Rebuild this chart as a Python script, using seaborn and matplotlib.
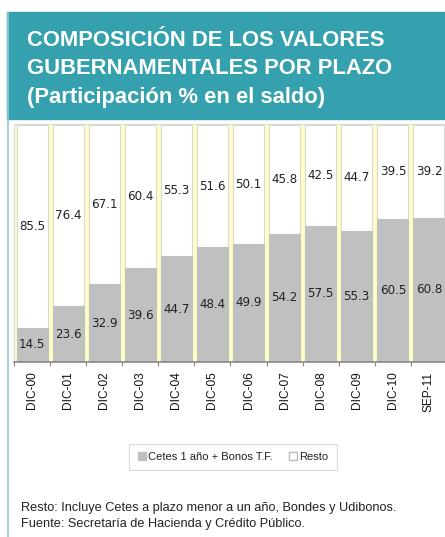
import numpy as np
import pandas as pd
import matplotlib
matplotlib.use("Agg")
import matplotlib.pyplot as plt
from matplotlib.patches import Rectangle
from matplotlib.lines import Line2D
import seaborn as sns

# Data
periodos = ['DIC-00', 'DIC-01', 'DIC-02', 'DIC-03', 'DIC-04', 'DIC-05',
            'DIC-06', 'DIC-07', 'DIC-08', 'DIC-09', 'DIC-10', 'SEP-11']
cetes_bonos = [14.5, 23.6, 32.9, 39.6, 44.7, 48.4, 49.9, 54.2, 57.5, 55.3, 60.5, 60.8]
resto = [85.5, 76.4, 67.1, 60.4, 55.3, 51.6, 50.1, 45.8, 42.5, 44.7, 39.5, 39.2]

df = pd.DataFrame({'periodo': periodos, 'cetes': cetes_bonos, 'resto': resto})
df['total'] = df['cetes'] + df['resto']

sns.set_style('white')
narrow = ['Liberation Sans Narrow', 'Liberation Sans', 'DejaVu Sans']

teal = '#35A1AE'
yellow = '#FFFFC4'
gray = '#C0C0C0'

W, H = 445, 537
fig = plt.figure(figsize=(W / 100, H / 100), dpi=100)

# header band + left border
fig.patches.append(Rectangle((7 / W, 1 - 119 / H), 438 / W, 107 / H,
                             transform=fig.transFigure, color=teal, zorder=0))
fig.lines.append(Line2D([7.5 / W, 7.5 / W], [0, 1 - 12 / H], transform=fig.transFigure,
                        color='#8FCAD2', lw=1.2))

title_lines = ['COMPOSICIÓN DE LOS VALORES', 'GUBERNAMENTALES POR PLAZO',
               '(Participación % en el saldo)']
for i, line in enumerate(title_lines):
    fig.text(27 / W, 1 - (46 + 28.5 * i) / H, line, color='white', fontsize=15.8,
             fontweight='bold', family=narrow, ha='left', va='baseline')

ax = fig.add_axes([14 / W, 175 / H, 433 / W, 238 / H])
ax.set_facecolor(yellow)

sns.barplot(data=df, x='periodo', y='total', color='white', width=0.86,
            edgecolor='#D8D8D8', linewidth=0.8, saturation=1, ax=ax)
sns.barplot(data=df, x='periodo', y='cetes', color=gray, width=0.86,
            edgecolor=gray, linewidth=0.8, saturation=1, ax=ax)

for i, row in df.iterrows():
    ax.text(i, row['cetes'] / 2, f"{row['cetes']:.1f}", ha='center', va='center',
            fontsize=8.6, color='#222222')
    ax.text(i, row['cetes'] + row['resto'] / 2, f"{row['resto']:.1f}", ha='center',
            va='center', fontsize=8.6, color='#222222')

ax.set_xlim(-0.5, 11.5)
ax.set_ylim(0, 100.4)
ax.set_xlabel('')
ax.set_ylabel('')
ax.set_yticks([])
ax.set_xticks(range(len(periodos)))
ax.set_xticklabels(periodos, rotation=90, fontsize=8.6, family='Liberation Sans',
                   color='#111111')
ax.set_xticks(np.arange(-0.5, 12, 1), minor=True)
ax.tick_params(axis='x', which='major', length=0, pad=7)
ax.tick_params(axis='x', which='minor', length=3, color='#888888', width=0.8,
               direction='out', bottom=True)
for side in ['top', 'left']:
    ax.spines[side].set_color('#D8D8D8')
    ax.spines[side].set_linewidth(0.8)
ax.spines['right'].set_visible(False)
ax.spines['bottom'].set_color('#888888')
ax.spines['bottom'].set_linewidth(1.2)

# legend
handles = [Rectangle((0, 0), 1, 1, facecolor=gray, edgecolor=gray),
           Rectangle((0, 0), 1, 1, facecolor='white', edgecolor='#BBBBBB')]
leg = fig.legend(handles, ['Cetes 1 año + Bonos T.F.', 'Resto'], loc='center',
                 bbox_to_anchor=(233 / W, 1 - 457 / H), ncol=2, frameon=True,
                 fancybox=False, edgecolor='#D0D0D0', handlelength=0.7,
                 handleheight=0.7, handletextpad=0.2, columnspacing=1.5,
                 borderpad=0.75, prop={'family': narrow, 'size': 8})
leg.get_frame().set_linewidth(0.8)
for t in leg.get_texts():
    t.set_color('#222222')

fig.text(21 / W, 1 - 511 / H,
         'Resto: Incluye Cetes a plazo menor a un año, Bondes y Udibonos.',
         fontsize=9.2, family=narrow, color='#222222', va='baseline')
fig.text(21 / W, 1 - 527 / H,
         'Fuente: Secretaría de Hacienda y Crédito Público.',
         fontsize=9.2, family=narrow, color='#222222', va='baseline')

fig.savefig('out.png', dpi=100, facecolor='white')
